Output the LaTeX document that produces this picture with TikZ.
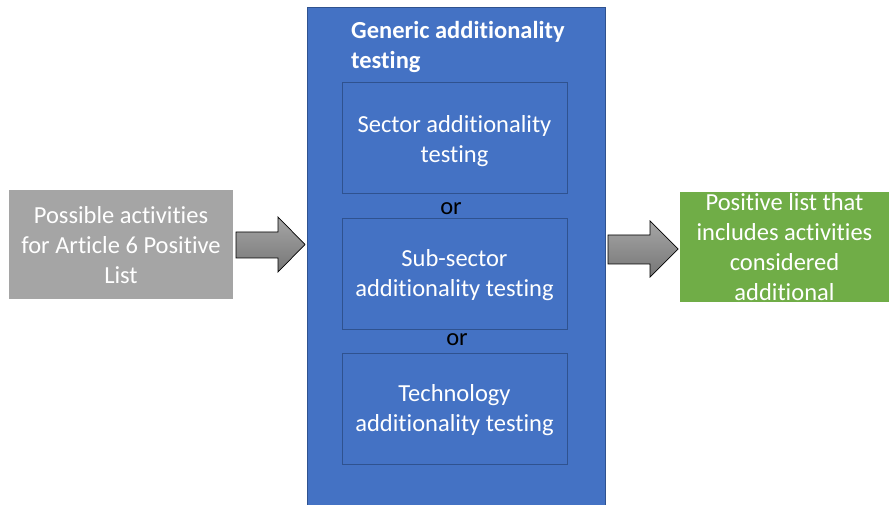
\documentclass[tikz,border=0pt]{standalone}
\usepackage{fontspec}
\setmainfont{Carlito}[Ligatures=NoCommon]
\definecolor{greybox}{HTML}{A5A5A5}
\definecolor{bluebox}{HTML}{4472C4}
\definecolor{blueline}{HTML}{2F528F}
\definecolor{greenbox}{HTML}{70AD47}
\definecolor{arrowtop}{HTML}{A6A6A6}
\definecolor{arrowbot}{HTML}{767676}
\begin{document}
\begin{tikzpicture}[x=1pt,y=1pt,
  txt/.style={text=white,font=\fontsize{24.5}{30}\selectfont,align=center},
  inner/.style={draw=blueline,line width=0.8pt,fill=bluebox,minimum width=225,minimum height=111,inner sep=0},
  blockarrow/.style={draw=black,line width=0.7pt,top color=arrowtop,bottom color=arrowbot},
  ortxt/.style={text=black,font=\fontsize{24.5}{30}\selectfont}]
\useasboundingbox (0,0) rectangle (889,504);
\begin{scope}
\clip (0,0) rectangle (889,504);
% grey input box
\fill[greybox] (9,{504-190}) rectangle (233,{504-299});
\node[txt] (in) at (121,{504-245.5}) {Possible activities\\for Article 6 Positive\\List};
% big blue box
\node[draw=blueline,line width=0.8pt,fill=bluebox,minimum width=298,minimum height=510,inner sep=0,anchor=north west] (gen) at (307,{504-7}) {};
\node[anchor=west,align=left,inner sep=0,text=white,font=\bfseries\fontsize{24.5}{30}\selectfont] (title) at (351,{504-47}) {Generic additionality\\testing};
% inner boxes
\node[inner] (sec) at (454.5,{504-137.5}) {};
\node[txt] at ([yshift=-3.5]sec.center) {Sector additionality\\testing};
\node[ortxt] (or1) at (451,{504-209}) {or};
\node[inner] (sub) at (454.5,{504-273.5}) {};
\node[txt] at ([yshift=-2]sub.center) {Sub-sector\\additionality testing};
\node[ortxt] (or2) at (457,{504-340}) {or};
\node[inner] (tech) at (454.5,{504-409}) {};
\node[txt] at ([yshift=-1]tech.center) {Technology\\additionality testing};
% green output box
\fill[greenbox] (680,{504-192}) rectangle (889,{504-302});
\node[txt] (out) at (784.5,{504-247.5}) {Positive list that\\includes activities\\considered\\additional};
% block arrows
\draw[blockarrow] (236,{504-232}) -- (278,{504-232}) -- (278,{504-217}) -- (305,{504-244.5}) -- (278,{504-272}) -- (278,{504-258}) -- (236,{504-258}) -- cycle;
\draw[blockarrow] (608,{504-235}) -- (650,{504-235}) -- (650,{504-221}) -- (678,{504-249}) -- (650,{504-277}) -- (650,{504-264}) -- (608,{504-264}) -- cycle;
\end{scope}
\end{tikzpicture}
\end{document}
